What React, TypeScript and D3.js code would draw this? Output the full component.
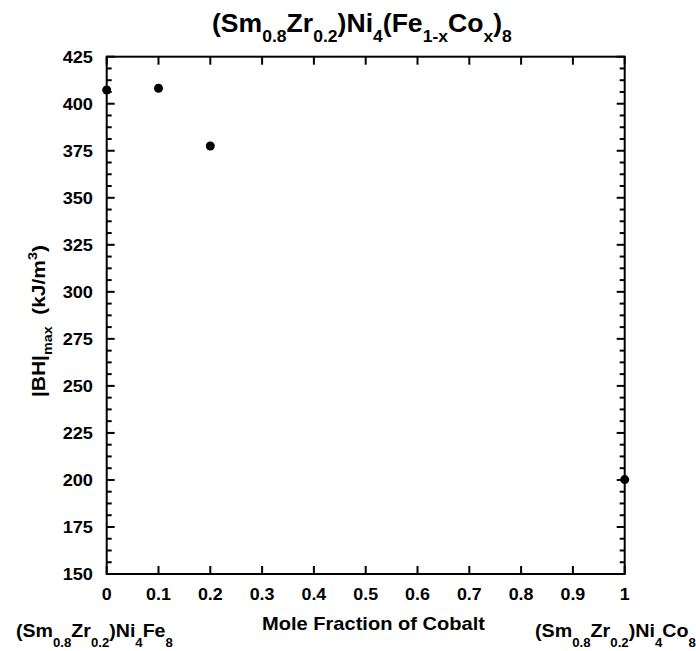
import React, { useEffect, useRef } from 'react';
import * as d3 from 'd3';

const cobalt = [0, 0.1, 0.2, 1];
const bhMax = [407.3, 408.2, 377.5, 200.2];
const xTicks = [0, 0.1, 0.2, 0.3, 0.4, 0.5, 0.6, 0.7, 0.8, 0.9, 1];
const yTicks = [150, 175, 200, 225, 250, 275, 300, 325, 350, 375, 400, 425];

type Part = [string, 'n' | 'sub' | 'sup'];

const titleParts: Part[] = [
  ['(Sm', 'n'], ['0.8', 'sub'], ['Zr', 'n'], ['0.2', 'sub'], [')Ni', 'n'], ['4', 'sub'],
  ['(Fe', 'n'], ['1-x', 'sub'], ['Co', 'n'], ['x', 'sub'], [')', 'n'], ['8', 'sub'],
];
const leftParts: Part[] = [
  ['(Sm', 'n'], ['0.8', 'sub'], ['Zr', 'n'], ['0.2', 'sub'], [')Ni', 'n'], ['4', 'sub'], ['Fe', 'n'], ['8', 'sub'],
];
const rightParts: Part[] = [
  ['(Sm', 'n'], ['0.8', 'sub'], ['Zr', 'n'], ['0.2', 'sub'], [')Ni', 'n'], ['4', 'sub'], ['Co', 'n'], ['8', 'sub'],
];
const yLabelParts: Part[] = [['|BH|', 'n'], ['max', 'sub'], ['  (kJ/m', 'n'], ['3', 'sup'], [')', 'n']];

const FONT = '"Liberation Sans", Arial, sans-serif';

const App = () => {
  const ref = useRef<SVGSVGElement>(null);

  useEffect(() => {
    const svg = d3.select(ref.current);
    svg.selectAll('*').remove();

    const left = 106.7;
    const right = 624.7;
    const top = 56.7;
    const bottom = 574;

    const x = d3.scaleLinear().domain([0, 1]).range([left, right]);
    const y = d3.scaleLinear().domain([150, 425]).range([bottom, top]);

    const g = svg.append('g');

    g.append('rect')
      .attr('x', left).attr('y', top)
      .attr('width', right - left).attr('height', bottom - top)
      .attr('fill', 'none').attr('stroke', '#000').attr('stroke-width', 2);

    const tick = (x1: number, y1: number, x2: number, y2: number) =>
      g.append('line').attr('x1', x1).attr('y1', y1).attr('x2', x2).attr('y2', y2)
        .attr('stroke', '#000').attr('stroke-width', 2);

    xTicks.forEach((t) => {
      tick(x(t), bottom, x(t), bottom - 8);
      tick(x(t), top, x(t), top + 8);
    });

    const minor = d3.range(150, 425, 6.25).filter((v) => (v - 150) % 25 !== 0);
    yTicks.forEach((t) => {
      tick(left, y(t), left + 8, y(t));
      tick(right, y(t), right - 8, y(t));
    });
    minor.forEach((t) => {
      tick(left, y(t), left + 5, y(t));
      tick(right, y(t), right - 5, y(t));
    });

    g.selectAll('.xl').data(xTicks).enter().append('text')
      .attr('x', (d) => x(d)).attr('y', 600)
      .attr('text-anchor', 'middle')
      .attr('transform', (d) => `translate(${x(d)},0) scale(1.05,1) translate(${-x(d)},0)`)
      .style('font', `bold 17px ${FONT}`)
      .text((d) => String(d));

    g.selectAll('.yl').data(yTicks).enter().append('text')
      .attr('x', 93).attr('y', (d) => y(d) + 6)
      .attr('text-anchor', 'end')
      .attr('transform', 'translate(93,0) scale(1.07,1) translate(-93,0)')
      .style('font', `bold 17px ${FONT}`)
      .text((d) => String(d));

    g.selectAll('.pt').data(cobalt).enter().append('circle')
      .attr('cx', (d) => x(d)).attr('cy', (d, i) => y(bhMax[i]))
      .attr('r', 4.5).attr('fill', '#000');

    // rich text with sub/superscripts, stretched to a target width
    const rich = (parts: Part[], size: number, subSize: number, drop: number) => {
      const t = svg.append('text')
        .style('font-family', FONT).style('font-weight', 'bold');
      let shift = 0;
      parts.forEach(([s, k]) => {
        const target = k === 'sub' ? drop : k === 'sup' ? -size * 0.45 : 0;
        t.append('tspan')
          .attr('dy', target - shift)
          .style('font-size', `${k === 'n' ? size : subSize}px`)
          .style('white-space', 'pre')
          .text(s);
        shift = target;
      });
      return t;
    };

    const place = (t: any, x0: number, y0: number, width: number) => {
      const w = (t.node() as SVGTextElement).getBBox().width;
      t.attr('transform', `translate(${x0},${y0}) scale(${width / w},1)`);
    };

    place(rich(titleParts, 25, 16.5, 10), 212, 32, 300);

    const xt = svg.append('text')
      .style('font', `bold 18.6px ${FONT}`)
      .text('Mole Fraction of Cobalt');
    place(xt, 262, 630, 223);

    place(rich(leftParts, 18.6, 12.5, 10), 16, 637, 157);
    place(rich(rightParts, 18.6, 12.5, 10), 535, 637, 161);

    const yl = rich(yLabelParts, 17.5, 12, 7).attr('text-anchor', 'start');
    const w = (yl.node() as SVGTextElement).getBBox().width;
    yl.attr('transform', `translate(45,397) rotate(-90) scale(${152 / w},1)`);
  }, []);

  return (
    <svg ref={ref} width={696} height={651} style={{ position: 'absolute', left: 0, top: 0, background: '#fff' }} />
  );
};

export default App;
